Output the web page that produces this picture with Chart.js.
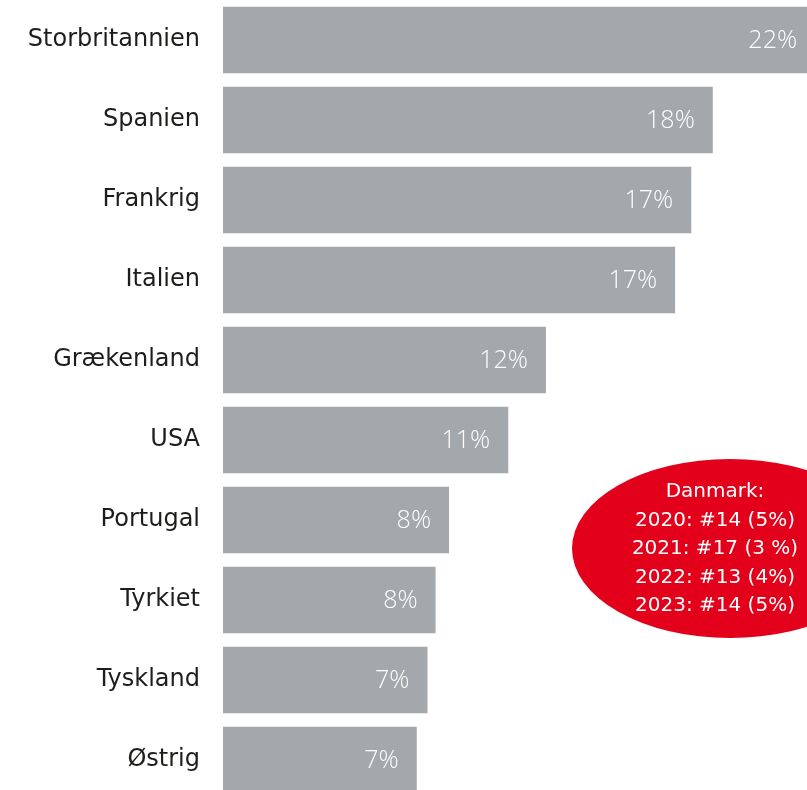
<!DOCTYPE html>
<html lang="da">
<head>
  <meta charset="UTF-8" />
  <title>Rejsemål</title>
  <script src="https://cdn.jsdelivr.net/npm/chart.js"></script>
  <style>
    * { box-sizing: border-box; margin: 0; padding: 0; }
    html, body { width: 807px; height: 790px; overflow: hidden; background: #ffffff; }
    #wrap { width: 807px; height: 800px; }
  </style>
</head>
<body>
  <div id="wrap">
    <canvas id="chart" width="807" height="800"></canvas>
  </div>

  <script>
    // Data
    const countries = ['Storbritannien', 'Spanien', 'Frankrig', 'Italien', 'Grækenland', 'USA', 'Portugal', 'Tyrkiet', 'Tyskland', 'Østrig'];
    const shares = [22.0, 18.2, 17.4, 16.8, 12.0, 10.6, 8.4, 7.9, 7.6, 7.2];
    const shareLabels = ['22%', '18%', '17%', '17%', '12%', '11%', '8%', '8%', '7%', '7%'];
    const denmarkNote = ['Danmark:', '2020: #14 (5%)', '2021: #17 (3 %)', '2022: #13 (4%)', '2023: #14 (5%)'];

    const FONT = "'DejaVu Sans', sans-serif";

    // white value labels inside the bar ends
    const valueLabels = {
      id: 'valueLabels',
      afterDatasetsDraw(chart) {
        const ctx = chart.ctx;
        const meta = chart.getDatasetMeta(0);
        ctx.save();
        ctx.fillStyle = '#ffffff';
        ctx.font = "300 25px 'Open Sans', sans-serif";
        ctx.textAlign = 'right';
        ctx.textBaseline = 'middle';
        meta.data.forEach((bar, i) => {
          ctx.fillText(shareLabels[i], bar.x - 18, bar.y + 1);
        });
        ctx.restore();
      }
    };

    // red ellipse with the Denmark note
    const denmarkBubble = {
      id: 'denmarkBubble',
      afterDraw(chart) {
        const ctx = chart.ctx;
        ctx.save();
        ctx.fillStyle = '#e2001a';
        ctx.beginPath();
        ctx.ellipse(730, 548.5, 158, 89.5, 0, 0, Math.PI * 2);
        ctx.fill();
        ctx.fillStyle = '#ffffff';
        ctx.font = '20px ' + FONT;
        ctx.textAlign = 'center';
        ctx.textBaseline = 'middle';
        denmarkNote.forEach((line, i) => {
          ctx.fillText(line, 715, 492 + i * 28.5);
        });
        ctx.restore();
      }
    };

    new Chart(document.getElementById('chart'), {
      type: 'bar',
      data: {
        labels: countries,
        datasets: [{
          data: shares,
          backgroundColor: '#a2a8ab',
          borderWidth: 0,
          barPercentage: 0.83,
          categoryPercentage: 1
        }]
      },
      options: {
        indexAxis: 'y',
        responsive: false,
        animation: false,
        layout: { padding: 0 },
        plugins: {
          legend: { display: false },
          tooltip: { enabled: false }
        },
        scales: {
          x: {
            display: false,
            min: 0,
            max: 21.7
          },
          y: {
            grid: { display: false, drawTicks: false },
            border: { display: false },
            ticks: {
              color: '#1d1d1b',
              padding: 23,
              font: { family: FONT, size: 24 }
            },
            afterFit(scale) {
              scale.width = 223;
              scale.paddingTop = 0;
              scale.paddingBottom = 0;
            }
          }
        }
      },
      plugins: [valueLabels, denmarkBubble]
    });
  </script>
</body>
</html>
